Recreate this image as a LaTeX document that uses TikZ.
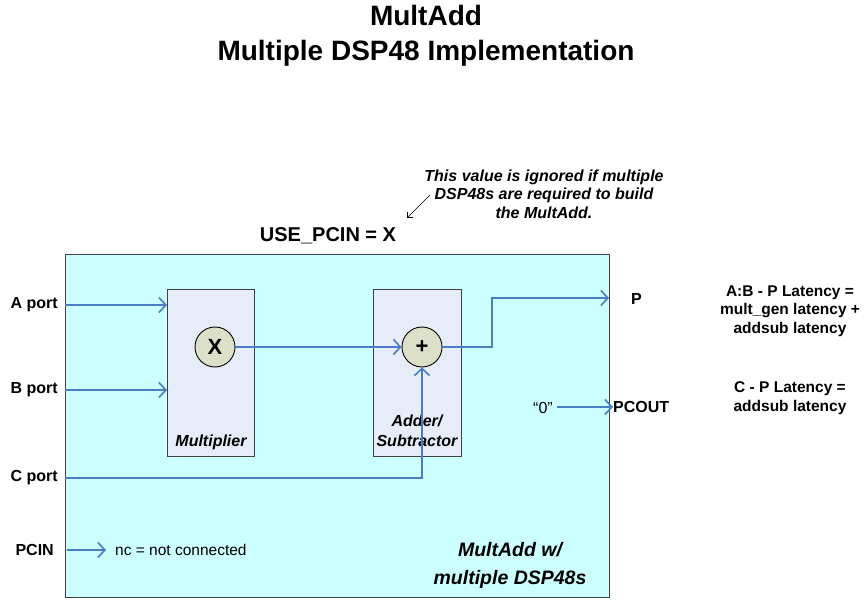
\documentclass[tikz,border=0pt]{standalone}
\usepackage{fontspec}
\setmainfont{Liberation Sans}
\usetikzlibrary{arrows.meta}
\definecolor{cyanfill}{RGB}{204,255,255}
\definecolor{blockfill}{RGB}{230,236,248}
\definecolor{circfill}{RGB}{221,224,200}
\definecolor{wire}{RGB}{74,126,196}
\tikzset{
  wirearrow/.style={draw=wire,line width=2pt,-{Straight Barb[length=7pt,width=15pt,line width=1.6pt]}},
  lbl/.style={font=\fontsize{16}{18}\selectfont\bfseries,inner sep=0pt},
  block/.style={draw=black!75,fill=blockfill,line width=0.9pt},
  opcirc/.style={circle,draw=black,fill=circfill,line width=0.9pt,minimum size=40pt,inner sep=0pt,font=\fontsize{22}{24}\selectfont\bfseries},
}
\begin{document}
\begin{tikzpicture}[x=1pt,y=-1pt]
\useasboundingbox (0,0) rectangle (864,601);
% title
\node[font=\fontsize{28}{35}\selectfont\bfseries,align=center] (title) at (426,36) {MultAdd\\Multiple DSP48 Implementation};
% main box
\node[draw=black!75,fill=cyanfill,line width=1pt,minimum width=544pt,minimum height=343pt,inner sep=0pt,anchor=north west] (main) at (65,254) {};
% blocks
\node[block,minimum width=87pt,minimum height=167pt,inner sep=0pt,anchor=north west] (mul) at (167,289) {};
\node[block,minimum width=88pt,minimum height=167pt,inner sep=0pt,anchor=north west] (add) at (373,289) {};
\node[font=\fontsize{16}{18}\selectfont\bfseries\itshape] (mullbl) at (211,442) {Multiplier};
\node[font=\fontsize{16}{20}\selectfont\bfseries\itshape,align=center] (addlbl) at (417,431) {Adder/\\Subtractor};
\node[opcirc] (x) at (215,347) {X};
\node[opcirc] (plus) at (422,347) {+};
% port labels
\node[lbl,anchor=east] (ap) at (58,305) {A port};
\node[lbl,anchor=east] (bp) at (58,390) {B port};
\node[lbl,anchor=east] (cp) at (58,478) {C port};
\node[lbl,anchor=east] (pcin) at (54,550) {PCIN};
\coordinate (ain) at (65,305);
\coordinate (bin) at (65,390);
\coordinate (cin) at (65,478);
\coordinate (pcinin) at (67,550);
\coordinate (pcinend) at (106,550);
\draw[wirearrow] (ain) -- (ain -| mul.west);
\draw[wirearrow] (bin) -- (bin -| mul.west);
\draw[wirearrow] (x.east) -- (plus.west);
\draw[wirearrow] (cin) -| (plus.south);
\coordinate (pbend) at (492,298);
\node[lbl,anchor=west] (p) at (631,299) {P};
\coordinate (pout) at (609,298);
\draw[wirearrow] (plus.east) -| (pbend) -- (pout);
\node[font=\fontsize{16}{18}\selectfont,inner sep=0pt] (zero) at (543,408) {“0”};
\node[lbl,anchor=west] (pcout) at (613,407) {PCOUT};
\draw[wirearrow] (557,407) -- (pcout.west);
\draw[wirearrow,line width=1.4pt] (pcinin) -- (pcinend);
\node[font=\fontsize{15.5}{18}\selectfont,anchor=west,inner sep=0pt] (nc) at (115,550) {nc = not connected};
\node[font=\fontsize{19.5}{28}\selectfont\bfseries\itshape,align=center] (malbl) at (510,565) {MultAdd w/\\multiple DSP48s};
% right annotations
\node[font=\fontsize{15.5}{18.5}\selectfont\bfseries,align=center] (lat1) at (790,311) {A:B - P Latency =\\mult\_gen latency +\\addsub latency};
\node[font=\fontsize{15.5}{19.5}\selectfont\bfseries,align=center] (lat2) at (790,398) {C - P Latency =\\addsub latency};
% use_pcin
\node[font=\fontsize{20}{22}\selectfont\bfseries] (use) at (328,236) {USE\_PCIN = X};
\node[font=\fontsize{16}{18.5}\selectfont\bfseries\itshape,align=center] (note) at (544,194) {This value is ignored if multiple\\DSP48s are required to build\\the MultAdd.};
\coordinate (na) at (430,195);
\coordinate (nb) at (407,218);
\draw[-{Straight Barb[length=4pt,width=8pt]},line width=0.7pt] (na) -- (nb);
\end{tikzpicture}
\end{document}
